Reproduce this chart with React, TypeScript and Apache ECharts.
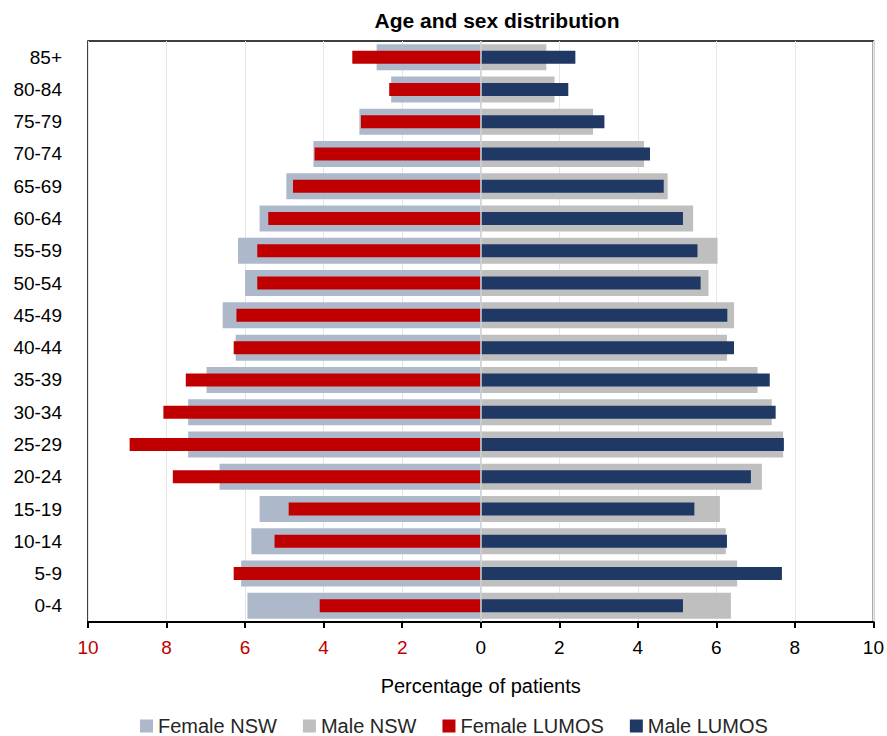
import React, { useEffect, useRef } from "react";
import * as echarts from "echarts";

const categories = ["85+", "80-84", "75-79", "70-74", "65-69", "60-64", "55-59", "50-54", "45-49", "40-44", "35-39", "30-34", "25-29", "20-24", "15-19", "10-14", "5-9", "0-4"];
const femaleNSW = [2.65, 2.28, 3.09, 4.26, 4.95, 5.63, 6.18, 6.0, 6.57, 6.24, 6.98, 7.45, 7.45, 6.65, 5.63, 5.84, 6.1, 5.94];
const maleNSW = [1.67, 1.88, 2.86, 4.16, 4.76, 5.41, 6.03, 5.8, 6.45, 6.27, 7.05, 7.41, 7.7, 7.16, 6.09, 6.24, 6.53, 6.37];
const femaleLUMOS = [3.27, 2.33, 3.05, 4.23, 4.78, 5.41, 5.69, 5.69, 6.22, 6.29, 7.51, 8.08, 8.94, 7.84, 4.89, 5.25, 6.29, 4.1];
const maleLUMOS = [2.41, 2.23, 3.15, 4.31, 4.66, 5.15, 5.52, 5.6, 6.28, 6.45, 7.36, 7.51, 7.72, 6.88, 5.44, 6.27, 7.67, 5.15];

const FONT = "'Liberation Sans', Arial, sans-serif";

export default function App() {
  const ref = useRef<HTMLDivElement>(null);
  useEffect(() => {
    if (!ref.current) return;
    const chart = echarts.init(ref.current, null, { renderer: "svg" });
    const yAxisBase = {
      type: "category" as const,
      data: categories,
      inverse: true,
    };
    chart.setOption({
      animation: false,
      backgroundColor: "#ffffff",
      textStyle: { fontFamily: FONT },
      graphic: [
        {
          type: "text",
          x: 497,
          y: 20,
          style: {
            text: "Age and sex distribution",
            textAlign: "center",
            textVerticalAlign: "middle",
            fontFamily: FONT,
            fontWeight: "bold",
            fontSize: 21,
            fill: "#000",
          },
        },
      ],
      legend: {
        top: 711,
        left: 135,
        itemWidth: 13,
        itemHeight: 13,
        itemGap: 26,
        icon: "rect",
        textStyle: { fontSize: 20, color: "#262626", fontFamily: FONT, padding: [0, 0, 0, 0] },
        data: ["Female NSW", "Male NSW", "Female LUMOS", "Male LUMOS"],
      },
      grid: {
        left: 88,
        right: 12,
        top: 41,
        bottom: 114,
        show: true,
        borderColor: "#000",
        borderWidth: 1.5,
        containLabel: false,
      },
      xAxis: {
        type: "value",
        min: -10,
        max: 10,
        interval: 2,
        name: "Percentage of patients",
        nameLocation: "middle",
        nameGap: 54,
        nameTextStyle: { fontSize: 20, color: "#000", fontFamily: FONT },
        axisLine: { show: true, onZero: false, lineStyle: { color: "#000", width: 2 } },
        axisTick: { show: true, length: 6, lineStyle: { color: "#000", width: 2 } },
        splitLine: { show: true, lineStyle: { color: "#e6e6e6", width: 1 } },
        axisLabel: {
          margin: 16,
          fontSize: 19,
          fontFamily: FONT,
          formatter: (v: number) => (v < 0 ? `{r|${Math.abs(v)}}` : `{k|${v}}`),
          rich: {
            r: { color: "#c00000", fontSize: 19, fontFamily: FONT },
            k: { color: "#000", fontSize: 19, fontFamily: FONT },
          },
        },
      },
      yAxis: [
        {
          ...yAxisBase,
          axisLine: { show: false },
          axisTick: { show: false },
          axisLabel: { fontSize: 19, color: "#000", margin: 26, fontFamily: FONT },
        },
        {
          ...yAxisBase,
          show: false,
        },
      ],
      series: [
        {
          name: "Female NSW",
          type: "bar",
          stack: "nsw",
          yAxisIndex: 0,
          barWidth: 26,
          itemStyle: { color: "#adb9ca" },
          data: femaleNSW.map((v) => -v),
        },
        {
          name: "Male NSW",
          type: "bar",
          stack: "nsw",
          yAxisIndex: 0,
          barWidth: 26,
          itemStyle: { color: "#bfbfbf" },
          data: maleNSW,
        },
        {
          name: "Female LUMOS",
          type: "bar",
          stack: "lumos",
          yAxisIndex: 1,
          barWidth: 13,
          itemStyle: { color: "#c00000" },
          data: femaleLUMOS.map((v) => -v),
        },
        {
          name: "Male LUMOS",
          type: "bar",
          stack: "lumos",
          yAxisIndex: 1,
          barWidth: 13,
          itemStyle: { color: "#1f3864" },
          data: maleLUMOS,
          markLine: {
            silent: true,
            symbol: "none",
            label: { show: false },
            lineStyle: { color: "#d0d0d0", width: 1.5, type: "solid" },
            data: [{ xAxis: 0 }],
          },
        },
      ],
    });
    return () => chart.dispose();
  }, []);
  return (
    <div
      ref={ref}
      style={{ position: "fixed", left: 0, top: 0, width: 887, height: 736, background: "#fff" }}
    />
  );
}
